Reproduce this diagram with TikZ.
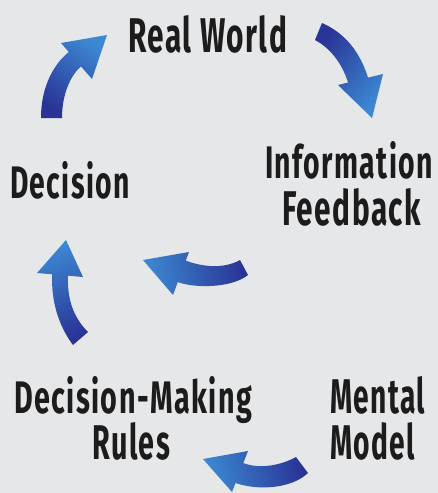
\documentclass[tikz,border=0pt]{standalone}
\usepackage{fontspec}
\setmainfont{Fira Sans}[LetterSpace=5]
\usepackage{graphicx}
\definecolor{bgc}{RGB}{230,231,233}
\definecolor{txtc}{RGB}{28,28,28}
\definecolor{arrdark}{RGB}{42,52,150}
\definecolor{arrlight}{RGB}{60,136,210}
\newcommand{\lbl}[2]{\resizebox{#1pt}{37pt}{\bfseries #2}}
\tikzset{
  lab/.style={anchor=base west, inner sep=0pt, outer sep=0pt, text=txtc},
  bluearrow/.style={top color=arrlight, bottom color=arrdark, shading angle=#1, draw=none}
}
\begin{document}
\begin{tikzpicture}[x=1pt,y=-1pt]
\fill[bgc] (0,0) rectangle (438,493);
\useasboundingbox (0,0) rectangle (438,493);

% labels
\node[lab] (real) at (128,52) {\lbl{159}{Real World}};
\node[lab] (info) at (265,178) {\lbl{168}{Information}};
\node[lab] (feed) at (282,225) {\lbl{139}{Feedback}};
\node[lab] (dec) at (10,198) {\lbl{120}{Decision}};
\node[lab] (dmr) at (14,413) {\lbl{238}{Decision-Making}};
\node[lab] (rules) at (92,459) {\lbl{78}{Rules}};
\node[lab] (mental) at (330,413) {\lbl{95}{Mental}};
\node[lab] (model) at (330,459) {\lbl{85}{Model}};

% arrow 1: Decision -> Real World
\shade[bluearrow=-34] (41,118) .. controls (41,85) and (55,63) .. (68.8,52)
  -- (61,43) -- (107,35) -- (92,79) -- (81,66.4)
  .. controls (70,76) and (62,95) .. (62,118) -- cycle;

% arrow 2: Real World -> Information Feedback
\shade[bluearrow=-130] (322,23) .. controls (345,33) and (360,52) .. (368,77.6)
  -- (383,74) -- (372,118) -- (338,85) -- (348,82.5)
  .. controls (342,63) and (330,48) .. (315,40) -- cycle;

% arrow 3: Information Feedback -> (middle)
\shade[bluearrow=100] (240,260) .. controls (222,270) and (200,266) .. (185.8,260.6)
  -- (189,252) -- (143,260) -- (173,295) -- (177.8,282.1)
  .. controls (195,288.5) and (232,288) .. (248,275) -- cycle;

% arrow 4: Decision-Making Rules -> Decision
\shade[bluearrow=20] (73,345) .. controls (58,325) and (51,300) .. (52.2,274.3)
  -- (37,273) -- (66,240) -- (83,277) -- (68,275.7)
  .. controls (67,300) and (74,318) .. (88,332) -- cycle;

% arrow 5: Mental Model -> Decision-Making Rules
\shade[bluearrow=105] (296,457) .. controls (280,466) and (258,469) .. (243.3,463)
  -- (248,451) -- (203,459) -- (232,492) -- (235.5,483)
  .. controls (255,490) and (290,490) .. (308,473) -- cycle;
\end{tikzpicture}
\end{document}
